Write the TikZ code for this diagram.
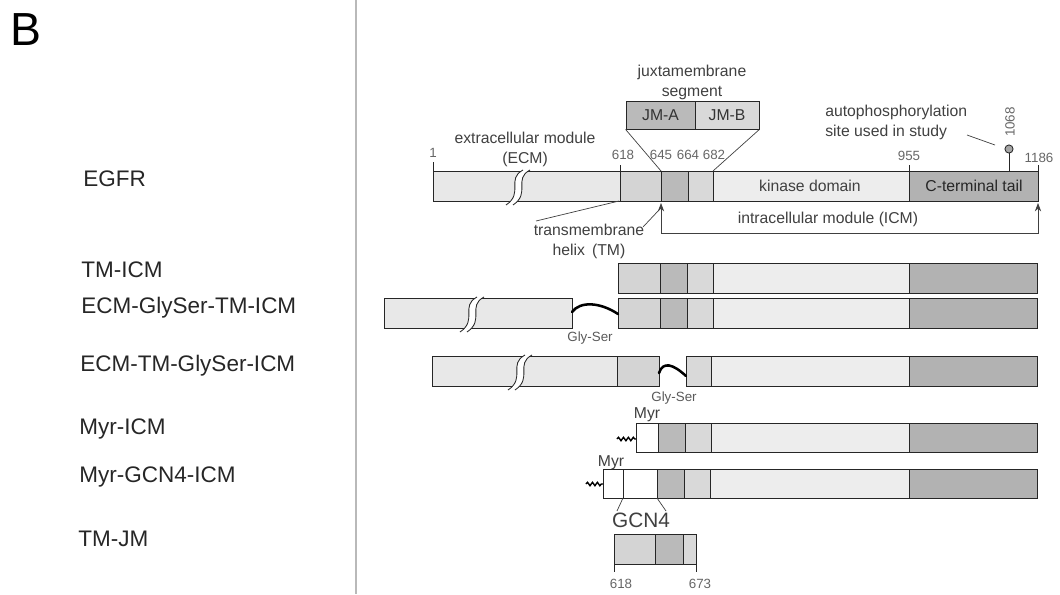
\documentclass[tikz,border=0pt]{standalone}
\usepackage{fontspec}
\setmainfont{Liberation Sans}
\usetikzlibrary{decorations.pathmorphing,arrows.meta}
\definecolor{ecmc}{gray}{0.91}
\definecolor{tmc}{gray}{0.83}
\definecolor{jmac}{gray}{0.73}
\definecolor{jmbc}{gray}{0.85}
\definecolor{kinc}{gray}{0.93}
\definecolor{ctc}{gray}{0.70}
% jeden usek proteinu: barva, x1, x2, horni y, dolni y
\newcommand{\usek}[5]{\filldraw[hrana,fill=#1] (#2,#4) rectangle (#3,#5);}
% zlom v dlouhem useku: x, horni y, dolni y
\newcommand{\zlom}[3]{%
  \fill[white] (#1-9,#3+4) .. controls (#1+9,#3-8) and (#1-9,#2+8) .. (#1+8,#2-1)
    -- (#1+15,#2-1) .. controls (#1-2,#2+8) and (#1+16,#3-8) .. (#1-2,#3+4) -- cycle;
  \draw[hrana] (#1-9,#3+4) .. controls (#1+9,#3-8) and (#1-9,#2+8) .. (#1+8,#2-1);
  \draw[hrana] (#1-2,#3+4) .. controls (#1+16,#3-8) and (#1-2,#2+8) .. (#1+15,#2-1);}
\begin{document}
\begin{tikzpicture}[x=0.025cm,y=-0.025cm,>={Stealth[length=6pt,width=4.5pt]},
    hrana/.style={draw=black!85,line width=0.6pt},
    popis/.style={inner sep=0,anchor=base,text=black!75,font=\fontsize{11.2}{14}\selectfont},
    cislo/.style={inner sep=0,anchor=base,text=black!60,font=\fontsize{9.5}{11}\selectfont},
    jmeno/.style={inner sep=0,anchor=base west,text=black!85,font=\fontsize{16}{19}\selectfont},
    linker/.style={line width=1.8pt,line cap=round},
    myr/.style={line width=1pt,decorate,decoration={snake,amplitude=1.2pt,segment length=3.5pt}},
    ukaz/.style={black!75,line width=0.5pt}]
  \useasboundingbox (0,0) rectangle (1060,594);
  % delici cara a pismeno panelu
  \draw[gray!55,line width=2pt] (356,0) -- (356,594);
  \node[inner sep=0,anchor=north west,font=\fontsize{33}{36}\selectfont] (panel) at (10,13) {B};
  % jmena konstruktu
  \node[jmeno] (nEGFR) at (83,186) {EGFR};
  \node[jmeno] (nTMICM) at (81,277) {TM-ICM};
  \node[jmeno] (nGSa) at (81,313) {ECM-GlySer-TM-ICM};
  \node[jmeno] (nGSb) at (80,371) {ECM-TM-GlySer-ICM};
  \node[jmeno] (nMyr) at (79,434) {Myr-ICM};
  \node[jmeno] (nGCN) at (79,482) {Myr-GCN4-ICM};
  \node[jmeno] (nTMJM) at (78,546) {TM-JM};
  % EGFR
  \def\yt{171}\def\yb{201}
  \usek{ecmc}{433}{620}{\yt}{\yb}
  \usek{tmc}{620}{661}{\yt}{\yb}
  \usek{jmac}{661}{688}{\yt}{\yb}
  \usek{jmbc}{688}{713}{\yt}{\yb}
  \usek{kinc}{713}{909}{\yt}{\yb}
  \usek{ctc}{909}{1038}{\yt}{\yb}
  \zlom{515}{\yt}{\yb}
  \node[popis] (kin) at (810,191) {kinase domain};
  \node[popis,text=black!85] (ctail) at (974,191) {C-terminal tail};
  % cisla zbytku a znacky
  \draw[hrana] (433,162) -- (433,\yt);
  \draw[hrana] (620,165) -- (620,\yt);
  \draw[hrana] (909,165) -- (909,\yt);
  \draw[hrana] (1038,165) -- (1038,\yt);
  \node[cislo] (c1) at (433,157) {1};
  \node[cislo] (c618) at (623,159) {618};
  \node[cislo] (c645) at (661,159) {645};
  \node[cislo] (c664) at (688,159) {664};
  \node[cislo] (c682) at (714,159) {682};
  \node[cislo] (c955) at (909,160) {955};
  \node[cislo] (c1186) at (1039,162) {1186};
  \node[popis,align=center] (ecm) at (525,163) {extracellular module\\(ECM)};
  % juxtamembranovy usek
  \node[popis,align=center] (jm) at (692,96) {juxtamembrane\\segment};
  \node[hrana,fill=jmac,minimum width=69*0.025cm,minimum height=28*0.025cm,inner sep=0,
        text=black!80,font=\fontsize{11.2}{13}\selectfont] (jmA) at (660.5,115) {JM-A};
  \node[hrana,fill=jmbc,minimum width=64*0.025cm,minimum height=28*0.025cm,inner sep=0,
        text=black!80,font=\fontsize{11.2}{13}\selectfont] (jmB) at (727,115) {JM-B};
  \coordinate (e645) at (661,\yt);
  \coordinate (e682) at (713,\yt);
  \draw[ukaz] (jmA.south west) -- (e645);
  \draw[ukaz] (jmB.south east) -- (e682);
  % autofosforylace
  \node[popis,anchor=base west,align=left] (auto) at (825,136) {autophosphorylation\\site used in study};
  \coordinate (autoA) at (967,135);
  \coordinate (autoB) at (995,145);
  \draw[ukaz] (autoA) -- (autoB);
  \draw[hrana] (1009,153) -- (1009,\yt);
  \draw[hrana,fill=gray!70] (1009,149) circle (2.9pt);
  \node[cislo,anchor=center,rotate=90] (c1068) at (1010,122) {1068};
  % intracelularni modul
  \coordinate (icmL) at (661,203);
  \coordinate (icmR) at (1038,203);
  \draw[ukaz,<->] (icmL) -- ++(0,30) -| (icmR);
  \node[popis] (icm) at (828,223) {intracellular module (ICM)};
  % transmembranovy helix
  \node[popis,align=center] (tm) at (589,255) {transmembrane\\helix\, (TM)};
  \coordinate (tmA) at (536,221);
  \coordinate (tmB) at (619,201);
  \coordinate (tmC) at (643,227);
  \coordinate (tmD) at (659,210);
  \draw[ukaz] (tmA) -- (tmB);
  \draw[ukaz] (tmC) -- (tmD);
  % TM-ICM
  \def\yt{263}\def\yb{293}
  \usek{tmc}{618}{660}{\yt}{\yb}
  \usek{jmac}{660}{687}{\yt}{\yb}
  \usek{jmbc}{687}{713}{\yt}{\yb}
  \usek{kinc}{713}{909}{\yt}{\yb}
  \usek{ctc}{909}{1037}{\yt}{\yb}
  % ECM-GlySer-TM-ICM
  \def\yt{298}\def\yb{328}
  \usek{ecmc}{384}{572}{\yt}{\yb}
  \zlom{469}{\yt}{\yb}
  \usek{tmc}{618}{660}{\yt}{\yb}
  \usek{jmac}{660}{687}{\yt}{\yb}
  \usek{jmbc}{687}{713}{\yt}{\yb}
  \usek{kinc}{713}{909}{\yt}{\yb}
  \usek{ctc}{909}{1037}{\yt}{\yb}
  \draw[linker] (572,312) .. controls (580,301) and (600,302) .. (618,314);
  \node[cislo,text=black!65] (gsA) at (590,341) {Gly-Ser};
  % ECM-TM-GlySer-ICM
  \def\yt{356}\def\yb{386}
  \usek{ecmc}{432}{617}{\yt}{\yb}
  \zlom{517}{\yt}{\yb}
  \usek{tmc}{617}{659}{\yt}{\yb}
  \usek{jmbc}{686}{711}{\yt}{\yb}
  \usek{kinc}{711}{909}{\yt}{\yb}
  \usek{ctc}{909}{1037}{\yt}{\yb}
  \draw[linker] (659,373) .. controls (663,361) and (673,364) .. (686,376);
  \node[cislo,text=black!65] (gsB) at (674,401) {Gly-Ser};
  % Myr-ICM
  \def\yt{423}\def\yb{452}
  \usek{white}{636}{658}{\yt}{\yb}
  \usek{jmac}{658}{685}{\yt}{\yb}
  \usek{jmbc}{685}{711}{\yt}{\yb}
  \usek{kinc}{711}{909}{\yt}{\yb}
  \usek{ctc}{909}{1037}{\yt}{\yb}
  \draw[myr] (617,439) -- (636,439);
  \node[popis] (myrA) at (647,418) {Myr};
  % Myr-GCN4-ICM
  \def\yt{469}\def\yb{498}
  \usek{white}{603}{623}{\yt}{\yb}
  \usek{white}{623}{657}{\yt}{\yb}
  \usek{jmac}{657}{684}{\yt}{\yb}
  \usek{jmbc}{684}{710}{\yt}{\yb}
  \usek{kinc}{710}{909}{\yt}{\yb}
  \usek{ctc}{909}{1037}{\yt}{\yb}
  \draw[myr] (586,484) -- (603,484);
  \node[popis] (myrB) at (611,466) {Myr};
  \node[popis,font=\fontsize{14.8}{17}\selectfont] (gcn) at (641,527) {GCN4};
  \coordinate (gcnA) at (617,511);
  \coordinate (gcnB) at (623,\yb);
  \coordinate (gcnC) at (666,511);
  \coordinate (gcnD) at (657,\yb);
  \draw[ukaz] (gcnA) -- (gcnB);
  \draw[ukaz] (gcnC) -- (gcnD);
  % TM-JM
  \def\yt{534}\def\yb{564}
  \usek{tmc}{614}{655}{\yt}{\yb}
  \usek{jmac}{655}{683}{\yt}{\yb}
  \usek{jmbc}{683}{696}{\yt}{\yb}
  \draw[hrana] (614,\yb) -- (614,572);
  \draw[hrana] (696,\yb) -- (696,572);
  \node[cislo] (d618) at (621,588) {618};
  \node[cislo] (d673) at (700,588) {673};
\end{tikzpicture}
\end{document}
